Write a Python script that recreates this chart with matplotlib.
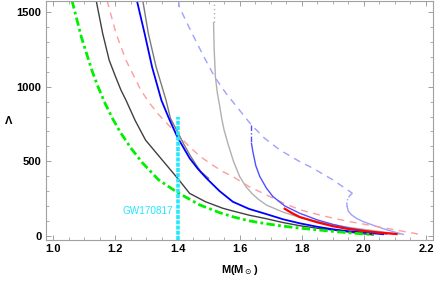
import numpy as np
import matplotlib
matplotlib.use("Agg")
import matplotlib.pyplot as plt
from matplotlib.ticker import MultipleLocator

# --- data (M in solar masses, Lambda) ---
green_m = [1.060, 1.091, 1.125, 1.143, 1.168, 1.191, 1.216, 1.250, 1.288, 1.339, 1.40, 1.471,
           1.535, 1.578, 1.63, 1.686, 1.74, 1.794, 1.85, 1.90, 1.96, 2.03]
green_l = [1580, 1329, 1106, 1005, 883, 786, 694, 588, 487, 375, 290, 207,
           155, 127, 100, 80, 64, 51, 39, 29, 18, 7]

dgray_m = [1.138, 1.159, 1.180, 1.200, 1.218, 1.234, 1.263, 1.297, 1.35, 1.40, 1.439, 1.49,
           1.546, 1.578, 1.63, 1.686, 1.74, 1.794, 1.85, 1.90, 1.96, 2.03]
dgray_l = [1580, 1358, 1178, 1070, 977, 910, 776, 642, 510, 386, 284, 228,
           184, 166, 138, 114, 88, 67, 50, 38, 22, 5]

salmon_m = [1.173, 1.202, 1.234, 1.260, 1.282, 1.310, 1.336, 1.37, 1.40, 1.435, 1.471, 1.51,
            1.546, 1.578, 1.63, 1.686, 1.74, 1.794, 1.85, 1.90, 1.95, 2.009, 2.09, 2.175]
salmon_l = [1580, 1358, 1178, 1070, 977, 890, 821, 745, 680, 605, 535, 478,
            430, 397, 330, 274, 220, 174, 143, 118, 96, 74, 43, 11]

blue_m = [1.269, 1.294, 1.318, 1.348, 1.372, 1.40, 1.439, 1.465, 1.493, 1.535, 1.578, 1.63,
          1.686, 1.74, 1.794, 1.85, 1.90, 1.95, 2.009, 2.062]
blue_l = [1580, 1358, 1133, 910, 789, 660, 520, 450, 386, 300, 228, 180,
          145, 110, 83, 60, 43, 30, 20, 10]

gray_m = [1.288, 1.306, 1.331, 1.363, 1.377, 1.40, 1.42, 1.44, 1.46, 1.475, 1.50]
gray_l = [1580, 1358, 1133, 910, 789, 698, 615, 541, 475, 430, 385]

lgray_top_m = [1.516, 1.516]
lgray_top_l = [1580, 1430]
lgray_m = [1.516, 1.518, 1.522, 1.528, 1.535, 1.542, 1.550, 1.562, 1.58, 1.60, 1.62, 1.64,
           1.66, 1.686, 1.74, 1.794, 1.85, 1.90, 1.95, 2.009, 2.06, 2.116]
lgray_l = [1430, 1250, 1066, 960, 880, 790, 709, 620, 500, 397, 330, 282,
           245, 206, 158, 122, 95, 74, 56, 40, 25, 11]

rblue_top_m = [1.638, 1.638]
rblue_top_l = [743, 620]
rblue_m = [1.638, 1.643, 1.652, 1.665, 1.686, 1.707, 1.745, 1.794, 1.85, 1.90, 1.95, 2.009, 2.073]
rblue_l = [620, 560, 470, 397, 320, 263, 200, 150, 106, 76, 52, 32, 11]

red_m = [1.745, 1.77, 1.794, 1.85, 1.90, 1.95, 2.009, 2.06, 2.105]
red_l = [181, 150, 125, 90, 64, 45, 29, 19, 11]

lav_m = [1.403, 1.406, 1.444, 1.482, 1.519, 1.556, 1.595, 1.638, 1.68, 1.729, 1.794, 1.836,
         1.90, 1.963]
lav_l = [1580, 1535, 1370, 1213, 1068, 956, 855, 743, 655, 576, 497, 453,
         375, 285]
lav_bend_m = [1.963, 1.955, 1.948, 1.945, 1.946]
lav_bend_l = [285, 270, 250, 220, 195]
lav_low_m = [1.946, 1.950, 1.960, 1.975, 1.995, 2.03, 2.073, 2.10, 2.127]
lav_low_l = [195, 165, 140, 118, 97, 70, 40, 24, 9]

gw_mass = 1.4
gw_lambda = [-30, 795]


fig = plt.figure(figsize=(4.36, 2.81), dpi=100)
ax = fig.add_axes([0.1048, 0.1459, 0.889, 0.8505])

ax.plot(lav_m, lav_l, color="#a0a0ff", lw=1.0, dashes=(5, 4))
ax.plot(lav_bend_m, lav_bend_l, color="#a0a0ff", lw=1.0, dashes=(4, 1.5, 1, 1.5))
ax.plot(lav_low_m, lav_low_l, color="#a0a0ff", lw=1.0)

ax.plot(lgray_top_m, lgray_top_l, color="#b0b0b0", lw=1.0, dashes=(1, 2))
ax.plot(lgray_m, lgray_l, color="#b0b0b0", lw=1.0)

ax.plot(salmon_m, salmon_l, color="#ff9c9c", lw=1.0, dashes=(5, 4))
ax.plot(dgray_m, dgray_l, color="#404040", lw=1.0)
ax.plot(gray_m, gray_l, color="#7a7a7a", lw=1.0)
ax.plot(blue_m, blue_l, color="#0000ff", lw=1.3)

ax.plot(rblue_top_m, rblue_top_l, color="#5050ff", lw=1.0, dashes=(4, 1.5, 1, 1.5))
ax.plot(rblue_m, rblue_l, color="#5050ff", lw=1.0)
ax.plot(red_m, red_l, color="#ff0000", lw=1.6)

ax.plot(green_m, green_l, color="#00f000", lw=2.0, dashes=(3, 1.2, 1, 1.2))

ax.plot([gw_mass, gw_mass], gw_lambda, color="#22e8ff", lw=2.6, dashes=(1.1, 0.35))
ax.text(1.386, 166, "GW170817", color="#22e8ff", fontsize=7.2, ha="right", va="center",
        family="Liberation Sans")

ax.set_xlim(0.9755, 2.2235)
ax.set_ylim(-29, 1576)

ax.xaxis.set_major_locator(MultipleLocator(0.2))
ax.xaxis.set_minor_locator(MultipleLocator(0.05))
ax.yaxis.set_major_locator(MultipleLocator(500))
ax.yaxis.set_minor_locator(MultipleLocator(100))
ax.set_xticks([1.0, 1.2, 1.4, 1.6, 1.8, 2.0, 2.2])
ax.set_xticklabels(["1.0", "1.2", "1.4", "1.6", "1.8", "2.0", "2.2"])

for s in ax.spines.values():
    s.set_color("#a0a0a0")
    s.set_linewidth(0.8)
ax.tick_params(which="both", direction="in", top=True, right=True, color="#a0a0a0",
               labelsize=8, labelcolor="black", pad=3)
ax.tick_params(which="major", length=3.5, width=0.7)
ax.tick_params(which="minor", length=2, width=0.6)
for lab in ax.get_xticklabels() + ax.get_yticklabels():
    lab.set_fontweight("bold")
    lab.set_family("Liberation Sans")

ax.set_xlabel(r"M(M$_\odot$)", fontsize=8, fontweight="bold", family="Liberation Sans", labelpad=6)
ax.set_ylabel("Λ", fontsize=8, fontweight="bold", family="Liberation Sans", rotation=0,
              labelpad=6, va="center")

fig.savefig("out.png", dpi=100)
